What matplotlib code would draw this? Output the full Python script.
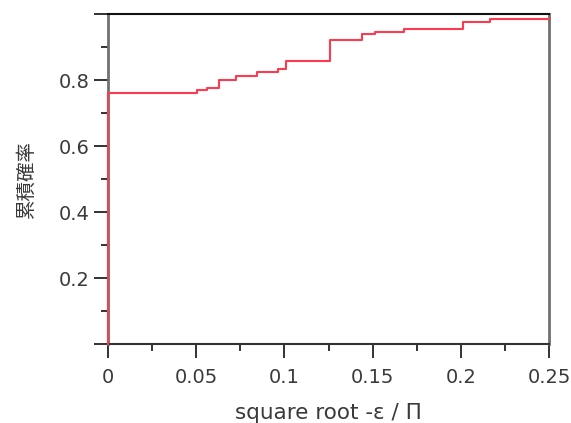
import matplotlib
matplotlib.use("Agg")
import matplotlib.pyplot as plt
from matplotlib.ticker import MultipleLocator, FixedLocator

plt.rcParams['font.family'] = ['DejaVu Sans', 'Noto Sans CJK JP']

# step points (x, cumulative probability)
x_vals = [0.0, 0.0, 0.0507, 0.0564, 0.0632, 0.0725, 0.0843, 0.0964, 0.1011,
          0.1261, 0.1439, 0.1511, 0.1678, 0.2011, 0.2166, 0.25]
y_vals = [0.0, 0.762, 0.769, 0.776, 0.800, 0.812, 0.825, 0.833, 0.857,
          0.920, 0.939, 0.944, 0.956, 0.977, 0.984, 0.984]

x_ticks = [0, 0.05, 0.1, 0.15, 0.2, 0.25]
x_tick_labels = ['0', '0.05', '0.1', '0.15', '0.2', '0.25']
y_ticks = [0, 0.2, 0.4, 0.6, 0.8, 1.0]
y_tick_labels = ['', '0.2', '0.4', '0.6', '0.8', '']

fig = plt.figure(figsize=(5.71, 4.23), dpi=100)
ax = fig.add_axes([108/571, 1-344/423, (549-108)/571, (344-14)/423])

ax.step(x_vals, y_vals, where='post', color='#ff3a50', lw=1.5, clip_on=False, zorder=3)

ax.set_xlim(0, 0.25)
ax.set_ylim(0, 1.0)
ax.xaxis.set_major_locator(FixedLocator(x_ticks))
ax.set_xticklabels(x_tick_labels)
ax.xaxis.set_minor_locator(MultipleLocator(0.025))
ax.yaxis.set_major_locator(FixedLocator(y_ticks))
ax.set_yticklabels(y_tick_labels)
ax.yaxis.set_minor_locator(MultipleLocator(0.1))

ax.tick_params(which='major', direction='out', length=10, width=1.3, color='#222222',
               labelsize=14, labelcolor='#3a3a3a', pad=3)
ax.tick_params(axis='x', which='major', pad=7)
ax.tick_params(which='minor', direction='out', length=5, width=1.3, color='#222222')

ax.spines['top'].set_color('#111111')
ax.spines['top'].set_linewidth(1.5)
ax.spines['bottom'].set_color('#333333')
ax.spines['bottom'].set_linewidth(1.5)
ax.spines['left'].set_color('#707070')
ax.spines['left'].set_linewidth(2)
ax.spines['right'].set_color('#707070')
ax.spines['right'].set_linewidth(2)

ax.set_xlabel('square root -ε / Π', fontsize=15.5, color='#3a3a3a', labelpad=12)
ax.set_ylabel('累積確率', fontsize=14, color='#3a3a3a', labelpad=16,
              family=['Noto Sans CJK JP', 'DejaVu Sans'])

fig.savefig('out.png', dpi=100)
